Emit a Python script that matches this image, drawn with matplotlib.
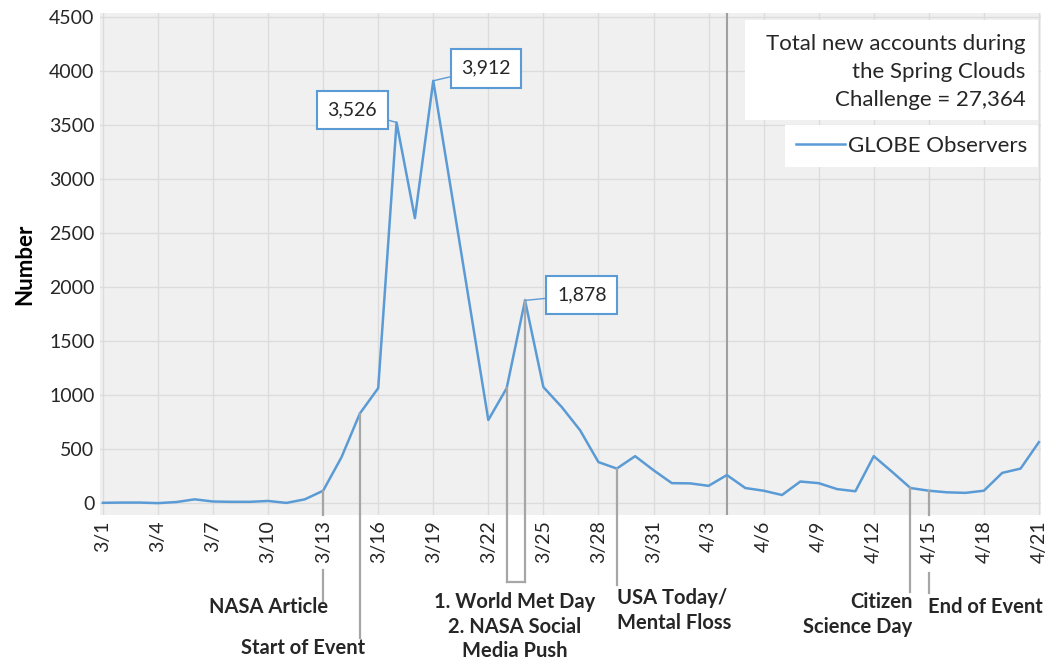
import numpy as np
import pandas as pd
import matplotlib
matplotlib.use('Agg')
import matplotlib.pyplot as plt
from matplotlib.patches import Rectangle

plt.rcParams['font.family'] = ['Lato', 'DejaVu Sans']

# Data: new GLOBE Observer accounts per day, 3/1 - 4/21
dates = pd.date_range('2017-03-01', '2017-04-21', freq='D')
day_labels = [f'{d.month}/{d.day}' for d in dates]
new_accounts = [
    3, 5, 5, 0, 10, 35, 15, 12, 12, 20, 2, 35, 115, 425, 830, 1065,
    3526, 2640, 3912, 2870, 1820, 770, 1065, 1878, 1075, 890, 675, 380,
    320, 435, 305, 185, 183, 160, 260, 140, 115, 75, 200, 185, 130, 110,
    435, 290, 140, 115, 100, 95, 115, 280, 320, 565,
]

# peak callouts (day label -> text)
peak_days = ['3/17', '3/19', '3/24']
peak_text = ['3,526', '3,912', '1,878']
peak_offsets = [(-32, 9), (38, 9), (41, 4)]

# event markers below the axis
event_labels = ['NASA Article', 'Start of Event', 'USA Today/\nMental Floss',
                'Citizen\nScience Day', 'End of Event']
event_days = ['3/13', '3/15', '3/29', '4/14', '4/15']
bracket_days = ['3/23', '3/24']
bracket_label = '1. World Met Day\n2. NASA Social\nMedia Push'

total_text = 'Total new accounts during\nthe Spring Clouds\nChallenge = 27,364'

BLUE = '#5B9BD5'
GRAY = '#A6A6A6'
TXT = '#262626'
EV_FS = 14.5

x = np.arange(len(dates))
idx = {lab: i for i, lab in enumerate(day_labels)}

fig = plt.figure(figsize=(10.5, 6.64), dpi=100)
ax = fig.add_axes([0.0952, 0.2244, 0.896, 0.756])
ax.set_facecolor('#F0F0F0')

ax.plot(x, new_accounts, color=BLUE, lw=1.8, label='GLOBE Observers', zorder=3)

ax.set_xlim(-0.16, 51.1)
ax.set_ylim(-110, 4540)
ax.set_xticks(x[::3])
ax.set_xticklabels(day_labels[::3], rotation=90, fontsize=14, color=TXT)
ax.set_yticks(np.arange(0, 4501, 500))
ax.set_yticklabels([str(v) for v in range(0, 4501, 500)], fontsize=14, color=TXT)
ax.tick_params(length=0, pad=4)
ax.grid(True, color='#DCDCDC', lw=1)
ax.set_axisbelow(True)
for s in ax.spines.values():
    s.set_visible(False)
ax.set_ylabel('Number', fontsize=16, fontweight='bold', color='black', labelpad=10)

# the dark vertical line near 4/4
ax.axvline(idx['4/4'], color='#A0A0A0', lw=1.5, zorder=2)

# peak value boxes
for d, t, off in zip(peak_days, peak_text, peak_offsets):
    i = idx[d]
    ax.annotate(t, xy=(i, new_accounts[i]), xytext=off, textcoords='offset points',
                ha='center', va='center', fontsize=14, color=TXT, zorder=5,
                bbox=dict(boxstyle='square,pad=0.55', fc='white', ec=BLUE, lw=1.5),
                arrowprops=dict(arrowstyle='-', color=BLUE, lw=1, shrinkA=0, shrinkB=0))

# event lines, y in axes fraction for parts below the axis
trans = ax.get_xaxis_transform()
y0, y1 = ax.get_ylim()


def frac(v):
    return (v - y0) / (y1 - y0)


def vline(i, top, bottom):
    ax.plot([i, i], [top, bottom], color=GRAY, lw=1.6, transform=trans,
            clip_on=False, zorder=4)


# NASA Article: broken by the tick label
i = idx['3/13']
vline(i, frac(new_accounts[i]), 0)
vline(i, -0.109, -0.171)
ax.text(i + 0.25, -0.183, event_labels[0], transform=trans, ha='right', va='center',
        fontsize=EV_FS, fontweight='bold', color=TXT)

# Start of Event
i = idx['3/15']
vline(i, frac(new_accounts[i]), -0.245)
ax.text(i + 0.3, -0.264, event_labels[1], transform=trans, ha='right', va='center',
        fontsize=EV_FS, fontweight='bold', color=TXT)

# World Met Day / NASA social media bracket
b0, b1 = idx[bracket_days[0]], idx[bracket_days[1]]
vline(b0, frac(new_accounts[b0]), -0.133)
vline(b1, frac(new_accounts[b1]), -0.133)
ax.plot([b0, b1], [-0.133, -0.133], color=GRAY, lw=1.6, transform=trans,
        clip_on=False, zorder=4)
ax.text((b0 + b1) / 2 - 0.05, -0.153, bracket_label, transform=trans, ha='center',
        va='top', fontsize=EV_FS, fontweight='bold', color=TXT, linespacing=1.3,
        multialignment='center')

# USA Today / Mental Floss
i = idx['3/29']
vline(i, frac(new_accounts[i]), -0.139)
ax.text(i, -0.145, event_labels[2], transform=trans, ha='left', va='top',
        fontsize=EV_FS, fontweight='bold', color=TXT, linespacing=1.3)

# Citizen Science Day
i = idx['4/14']
vline(i, frac(new_accounts[i]), -0.153)
ax.text(i + 0.1, -0.153, event_labels[3], transform=trans, ha='right', va='top',
        fontsize=EV_FS, fontweight='bold', color=TXT, linespacing=1.3,
        multialignment='right')

# End of Event: broken by the tick label
i = idx['4/15']
vline(i, frac(new_accounts[i]), 0)
vline(i, -0.115, -0.155)
ax.text(i - 0.05, -0.183, event_labels[4], transform=trans, ha='left', va='center',
        fontsize=EV_FS, fontweight='bold', color=TXT)

# total box and legend
ax.add_patch(Rectangle((0.686, 0.787), 0.311, 0.199, transform=ax.transAxes,
                       fc='white', ec='none', zorder=4))
ax.text(0.984, 0.958, total_text, transform=ax.transAxes, ha='right', va='top',
        fontsize=16, color=TXT, linespacing=1.5, zorder=5)
leg = ax.legend(loc='upper right', bbox_to_anchor=(0.997, 0.777), fontsize=16,
                frameon=True, fancybox=False, handlelength=2.2, handletextpad=0.1,
                borderpad=0.5, borderaxespad=0)
leg.get_frame().set_facecolor('white')
leg.get_frame().set_edgecolor('none')
leg.get_frame().set_alpha(1)
for t in leg.get_texts():
    t.set_color(TXT)

fig.savefig('out.png', dpi=100)
